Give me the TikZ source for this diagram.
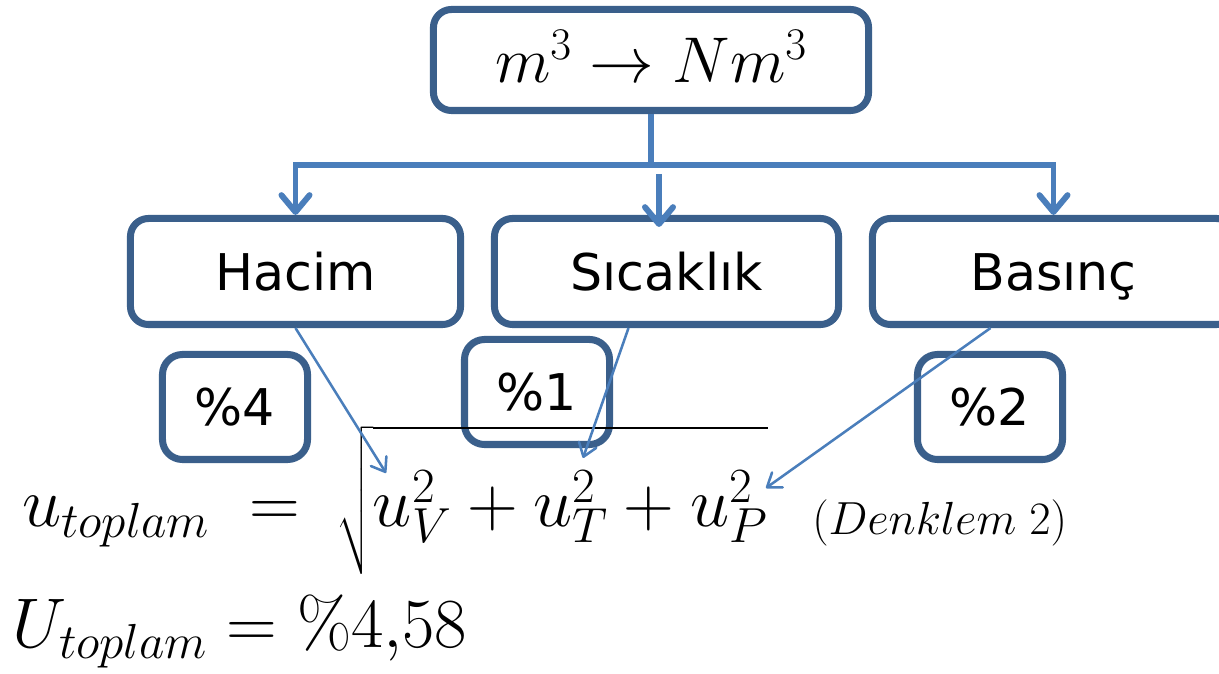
\RequirePackage{fix-cm}
\documentclass[tikz,border=0pt]{standalone}
\usepackage{exscale}
\usepackage{fontspec}
\newfontfamily\boxfont{DejaVu Sans}
\usepackage{tikz}
\usetikzlibrary{positioning, arrows.meta, calc}

\definecolor{boxline}{HTML}{3A5F8B}
\definecolor{connline}{HTML}{4A7EBB}

\begin{document}
\begin{tikzpicture}[x=0.025cm, y=-0.025cm,
    unitbox/.style={draw=boxline, line width=5pt, rounded corners=0.45cm,
                    fill=white, font=\boxfont\fontsize{36}{40}\selectfont,
                    text height=27pt, text depth=0pt, inner sep=0pt},
    pctbox/.style={unitbox, rounded corners=0.5cm,
                   minimum width=3.625cm, minimum height=2.625cm},
    bus/.style={draw=connline, line width=4.2pt,
                -{Straight Barb[round, length=12pt, width=20pt]}},
    pointer/.style={draw=connline, line width=1.8pt,
                    -{Straight Barb[round, length=9pt, width=13pt]}}]
    \clip (0,0) rectangle (1219,674);

    % conversion box and the three factors
    \node[unitbox, minimum width=10.875cm, minimum height=2.525cm,
          font=\fontsize{46}{50}\selectfont, text height=32pt]
        (conv) at (651,60) {$m^3 \to Nm^3$};
    \node[unitbox, minimum width=8.25cm, minimum height=2.65cm]
        (hacim) at (295.5,271.5) {Hacim};
    \node[unitbox, minimum width=8.6cm, minimum height=2.65cm]
        (sicaklik) at (666.5,271.5) {Sıcaklık};
    \node[unitbox, minimum width=9.05cm, minimum height=2.65cm]
        (basinc) at (1053.5,271.5) {Basınç};

    % uncertainty of each factor
    \node[pctbox] (p4) at (235,407) {\%4};
    \node[pctbox] (p1) at (537,392) {\%1};
    \node[pctbox] (p2) at (990,407) {\%2};

    \coordinate (bus) at (651,165);
    \coordinate (midtop) at (659,174);
    \draw[bus] (conv.south) -- (bus) -| (hacim.north);
    \draw[bus] (bus) -| (basinc.north);
    \draw[bus] (midtop) -- ($(midtop |- sicaklik.north)+(0,12)$);

    % combined uncertainty
    \node[anchor=base west, inner sep=0pt] (utop) at (22,527)
        {\fontsize{50}{55}\selectfont
         $u_{toplam}\hspace{14pt} = \hspace{12pt}
          \sqrt{\rule[-32pt]{0pt}{99pt}u_V^2+u_T^2+u_P^2}$};
    \node[anchor=base west, inner sep=0pt] (denk) at (812,535)
        {\fontsize{33}{36}\selectfont $(Denklem\;2)$};
    \node[anchor=base west, inner sep=0pt] (Utop) at (12,648)
        {\fontsize{50}{55}\selectfont $U_{toplam} = \%4{,}58$};

    \coordinate (tV) at (386,473);
    \coordinate (tT) at (583,458);
    \coordinate (tP) at (766,488);
    \draw[pointer] (hacim.south) -- (tV);
    \draw[pointer] ($(sicaklik.south)+(-38,0)$) -- (tT);
    \draw[pointer] ($(basinc.south)+(-63,0)$) -- (tP);
\end{tikzpicture}
\end{document}
